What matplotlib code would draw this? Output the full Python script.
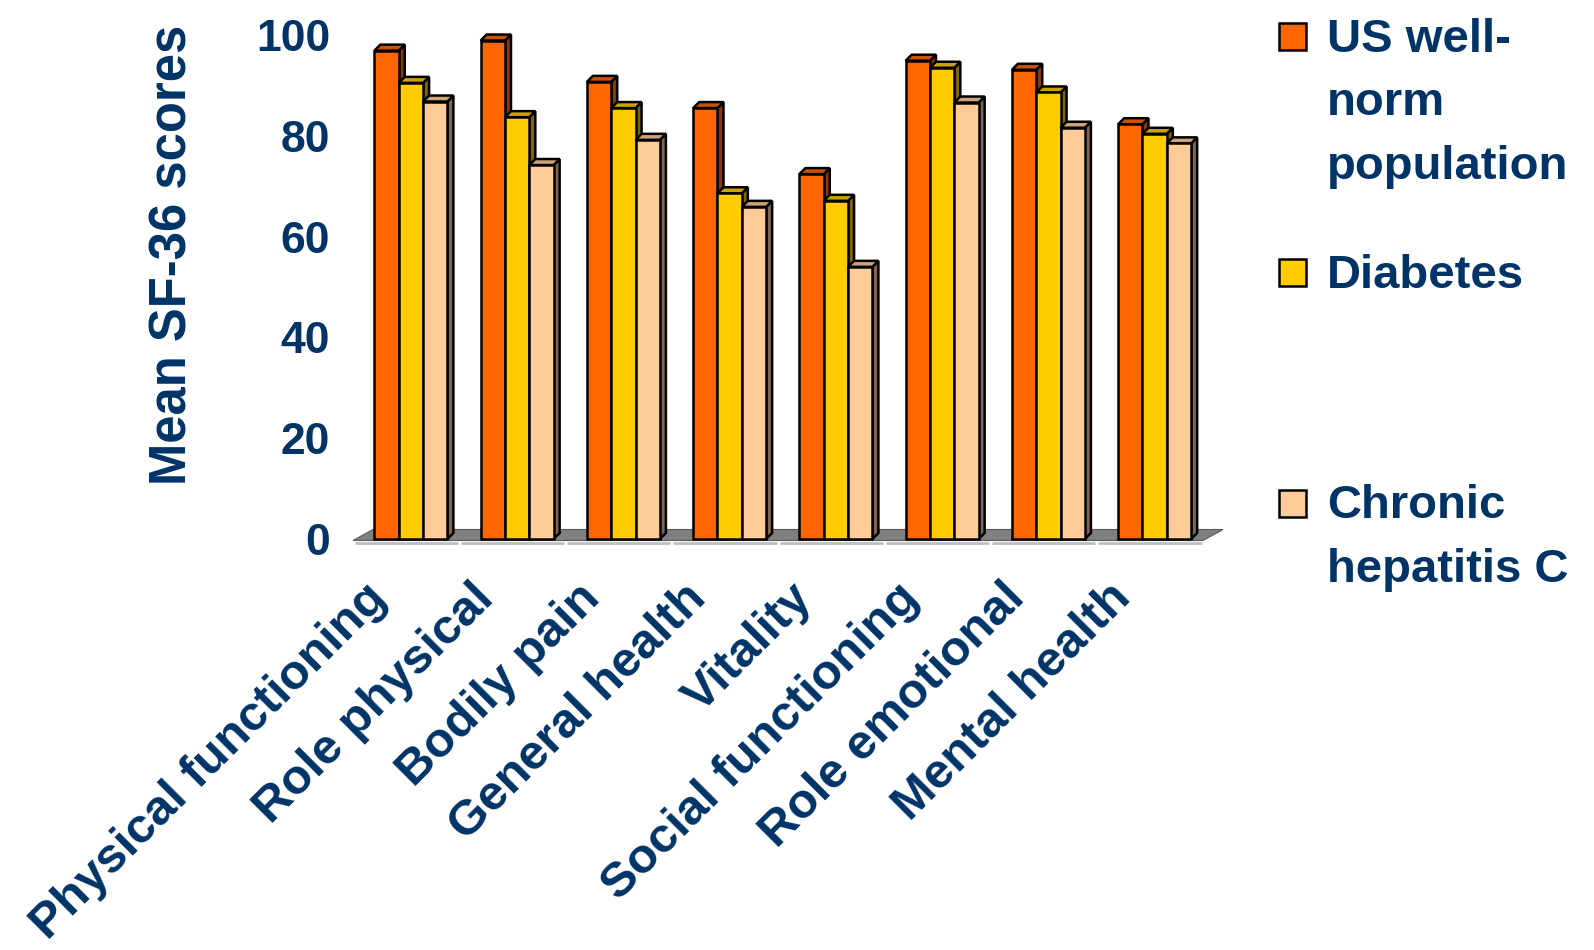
import matplotlib
matplotlib.use("Agg")
import matplotlib.pyplot as plt
from matplotlib.patches import Polygon, Rectangle

# ---------------------------------------------------------------------------
# Data
# ---------------------------------------------------------------------------
categories = ["Physical functioning", "Role physical", "Bodily pain", "General health",
              "Vitality", "Social functioning", "Role emotional", "Mental health"]
series_names = ["US well-\nnorm\npopulation", "Diabetes", "Chronic\nhepatitis C"]
us_norm = [96.9, 98.9, 90.7, 85.5, 72.4, 94.9, 93.1, 82.3]
diabetes = [90.5, 83.7, 85.5, 68.6, 67.1, 93.5, 88.6, 80.4]
hep_c = [86.8, 74.2, 79.2, 65.9, 54.0, 86.6, 81.6, 78.5]
yticks = [0, 20, 40, 60, 80, 100]

# ---------------------------------------------------------------------------
# Style
# ---------------------------------------------------------------------------
front_colors = ["#FF6600", "#FFCC00", "#FFCC99"]
top_colors = ["#CC5200", "#CCA300", "#CCA37A"]
side_colors = ["#8C3800", "#806600", "#806650"]
NAVY = "#003366"
EDGE_LW = 1.8

plt.rcParams["font.family"] = ["Liberation Sans", "DejaVu Sans"]
plt.rcParams["font.weight"] = "bold"

W, H = 1594, 950
fig = plt.figure(figsize=(W / 100, H / 100), dpi=100)

# axes box in pixels: x from 353 to 1203, value 0 at 539 px and 100 at 35 px from top
ax = fig.add_axes([353 / W, (H - 539) / H, 850 / W, 504 / H])
ax.set_xlim(-0.5, len(categories) - 0.5)
ax.set_ylim(0, 100)
ux = len(categories) / 850.0   # data units per pixel, x
uy = 100 / 504.0               # data units per pixel, y

# floor (gray slab seen in perspective)
f0 = -1.5 * uy
fdx, fdy = 20 * ux, 11 * uy
x_lo, x_hi = -0.5, len(categories) - 0.5
ax.add_patch(Polygon([(x_lo, f0), (x_hi, f0), (x_hi + fdx, f0 + fdy), (x_lo + fdx, f0 + fdy)],
                     closed=True, facecolor="#808080", edgecolor="#5a5a5a", lw=0.8,
                     zorder=1, clip_on=False))
# light category axis line under the floor, broken at each category boundary
for i in range(len(categories)):
    ax.plot([i - 0.5 + 1.5 * ux, i + 0.5 - 1.5 * ux], [f0 - 2 * uy] * 2, color="#c0c0c0",
            lw=2, solid_capstyle="butt", zorder=1, clip_on=False)

# 3D-looking bars
series = [us_norm, diabetes, hep_c]
bw = 0.229
shift = 0.045
ddx, ddy = 6 * ux, 6 * uy
for s, vals in enumerate(series):
    xs = [i + shift + (s - 1) * bw for i in range(len(vals))]
    z = 3 + s
    for x, v in zip(xs, vals):
        x0, x1 = x - bw / 2, x + bw / 2
        ax.add_patch(Polygon([(x1, 0), (x1 + ddx, ddy), (x1 + ddx, v + ddy), (x1, v)],
                             closed=True, facecolor=side_colors[s], edgecolor="black",
                             lw=EDGE_LW, joinstyle="miter", zorder=z, clip_on=False))
        ax.add_patch(Polygon([(x0, v), (x1, v), (x1 + ddx, v + ddy), (x0 + ddx, v + ddy)],
                             closed=True, facecolor=top_colors[s], edgecolor="black",
                             lw=EDGE_LW, joinstyle="miter", zorder=z, clip_on=False))
    ax.bar(xs, vals, width=bw, color=front_colors[s], edgecolor="black", linewidth=EDGE_LW,
           zorder=z + 0.5, clip_on=False)

# axes styling
for sp in ax.spines.values():
    sp.set_visible(False)
ax.set_xticks([])
ax.set_yticks(yticks)
ax.set_yticklabels([str(t) for t in yticks], fontsize=32, fontweight="bold", color=NAVY)
ax.tick_params(axis="y", length=0, pad=16.5)

fig.text(173 / W, 1 - 255 / H, "Mean SF-36 scores", rotation=90, ha="center", va="center",
         fontsize=36.5, fontweight="bold", color=NAVY)

# rotated category labels
for i, name in enumerate(categories):
    ax.text(i - 17 * ux, -61 * uy, name, rotation=45, rotation_mode="anchor",
            ha="right", va="baseline", fontsize=35.5, fontweight="bold", color=NAVY,
            clip_on=False)

# legend, drawn by hand (squares line up with the first text line)
legend_y = [36, 272, 503]
for s, (name, cy) in enumerate(zip(series_names, legend_y)):
    fig.add_artist(Rectangle((1279 / W, 1 - (cy + 13.5) / H), 27 / W, 27 / H,
                             transform=fig.transFigure, facecolor=front_colors[s],
                             edgecolor="black", lw=EDGE_LW))
    fig.text(1327 / W, 1 - (cy - 18.5) / H, name, ha="left", va="top", fontsize=34,
             fontweight="bold", color=NAVY, linespacing=1.58)

fig.savefig("out.png", dpi=100)
